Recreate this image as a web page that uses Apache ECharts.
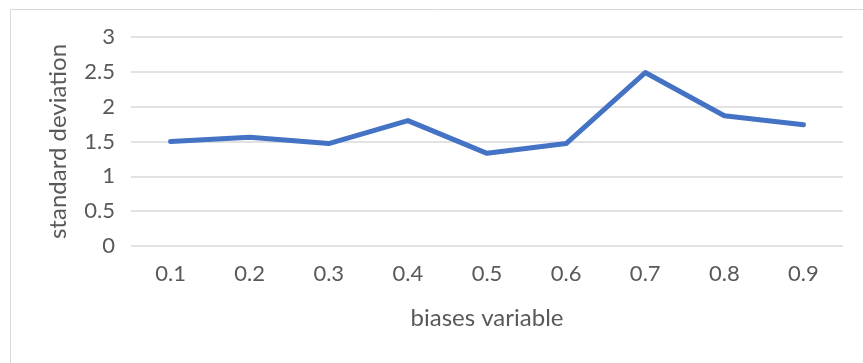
<!DOCTYPE html>
<html>
<head>
<meta charset="utf-8">
<script src="https://cdn.jsdelivr.net/npm/echarts@6/dist/echarts.min.js"></script>
<style>
html,body{margin:0;padding:0;background:#fff;}
#c{width:863px;height:363px;}
</style>
</head>
<body>
<div id="c"></div>
<script>
var categories = ['0.1','0.2','0.3','0.4','0.5','0.6','0.7','0.8','0.9'];
var stdValues = [1.50, 1.56, 1.47, 1.80, 1.33, 1.47, 2.49, 1.87, 1.74];
var yTicks = [0, 0.5, 1, 1.5, 2, 2.5, 3];
var xName = 'biases variable';
var yName = 'standard deviation';

var font = 'Lato, "Open Sans", sans-serif';
var chart = echarts.init(document.getElementById('c'), null, {renderer:'canvas'});
chart.setOption({
  animation: false,
  backgroundColor: '#fff',
  graphic: [{
    type: 'rect', left: 8, top: 7, z: -1,
    shape: {width: 870, height: 400},
    style: {fill: 'none', stroke: '#d9d9d9', lineWidth: 1}
  }],
  grid: {left: 131, right: 20, top: 37, bottom: 117},
  xAxis: {
    type: 'category', data: categories, boundaryGap: true,
    name: xName, nameLocation: 'middle', nameGap: 60, nameMoveOverlap: false,
    nameTextStyle: {fontFamily: font, fontSize: 24, color: '#595959'},
    axisLine: {show: false}, axisTick: {show: false},
    axisLabel: {fontFamily: font, fontSize: 22, color: '#595959', margin: 17}
  },
  yAxis: {
    type: 'value', min: yTicks[0], max: yTicks[yTicks.length-1], interval: 0.5,
    name: yName, nameLocation: 'middle', nameGap: 61, nameMoveOverlap: false,
    nameTextStyle: {fontFamily: font, fontSize: 24, color: '#595959'},
    axisLine: {show: false}, axisTick: {show: false},
    axisLabel: {fontFamily: font, fontSize: 22, color: '#595959', margin: 16},
    splitLine: {lineStyle: {color: '#d9d9d9', width: 1.5}}
  },
  series: [{
    type: 'line', data: stdValues, symbol: 'none',
    lineStyle: {color: '#4472C4', width: 5, join: 'round', cap: 'round'}
  }]
});
</script>
</body>
</html>
